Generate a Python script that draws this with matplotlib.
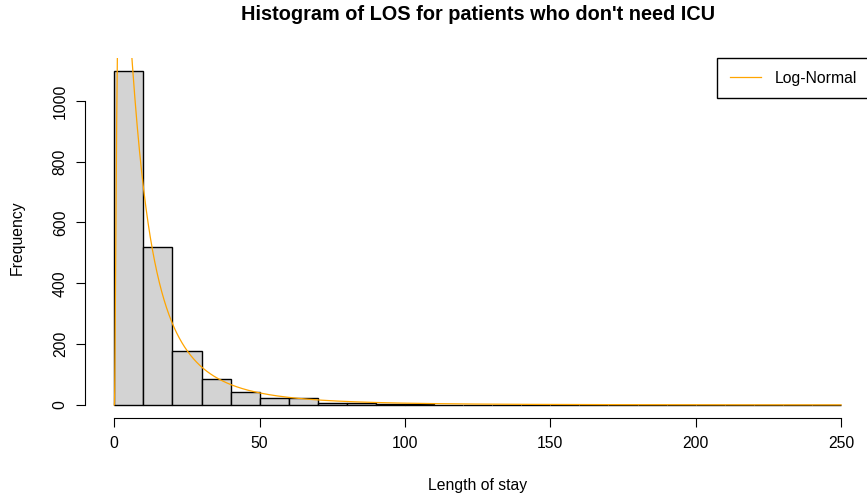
import numpy as np
import matplotlib
matplotlib.use('Agg')
import matplotlib.pyplot as plt

# histogram of length of stay, bins of 10 days
bin_edges = list(range(0, 260, 10))
counts = [1097, 521, 178, 85, 44, 22, 24, 7, 6, 3, 2, 1, 1, 1, 1, 1, 0, 1, 1, 0, 0, 0, 1, 1, 1]

# fitted log-normal (density scaled to counts)
meanlog = 2.139
sdlog = 1.101
n_obs = sum(counts)
bin_w = 10

x_ticks = [0, 50, 100, 150, 200, 250]
y_ticks = [0, 200, 400, 600, 800, 1000]

plt.rcParams['font.family'] = ['Liberation Sans', 'DejaVu Sans']

fig = plt.figure(figsize=(8.67, 5.03), dpi=100)
ax = fig.add_axes([0.0983, 0.1684, 0.9053, 0.7163])

left = np.array(bin_edges[:-1])
ax.bar(left, counts, width=bin_w, align='edge', color='#D3D3D3',
       edgecolor='black', linewidth=1)

xs = np.linspace(0.01, 250, 4000)
dens = np.exp(-(np.log(xs) - meanlog) ** 2 / (2 * sdlog ** 2)) / (xs * sdlog * np.sqrt(2 * np.pi))
ax.plot(xs, dens * n_obs * bin_w, color='#FFA500', linewidth=0.9, label='Log-Normal')

ymax = max(counts)
ax.set_xlim(-10, 260)
ax.set_ylim(-0.04 * ymax, 1.04 * ymax)

for s in ['top', 'right']:
    ax.spines[s].set_visible(False)
ax.spines['bottom'].set_bounds(0, 250)
ax.spines['left'].set_bounds(0, 1000)
ax.set_xticks(x_ticks)
ax.set_yticks(y_ticks)
ax.set_yticklabels([str(v) for v in y_ticks], rotation=90, va='center')
ax.tick_params(length=6.5, labelsize=11.3, pad=6)

ax.set_xlabel('Length of stay', fontsize=11.3, labelpad=20)
ax.set_ylabel('Frequency', fontsize=11.3, labelpad=20)
fig.suptitle("Histogram of LOS for patients who don't need ICU",
             fontsize=14.3, fontweight='bold', x=0.551, y=0.99)

leg = ax.legend(loc='upper right', bbox_to_anchor=(1, 1), borderaxespad=0,
                fancybox=False, edgecolor='black', framealpha=1,
                fontsize=11.3, handlelength=2.0, borderpad=0.8, handletextpad=0.9)
leg.get_frame().set_linewidth(1)

fig.savefig('out.png', dpi=100)
